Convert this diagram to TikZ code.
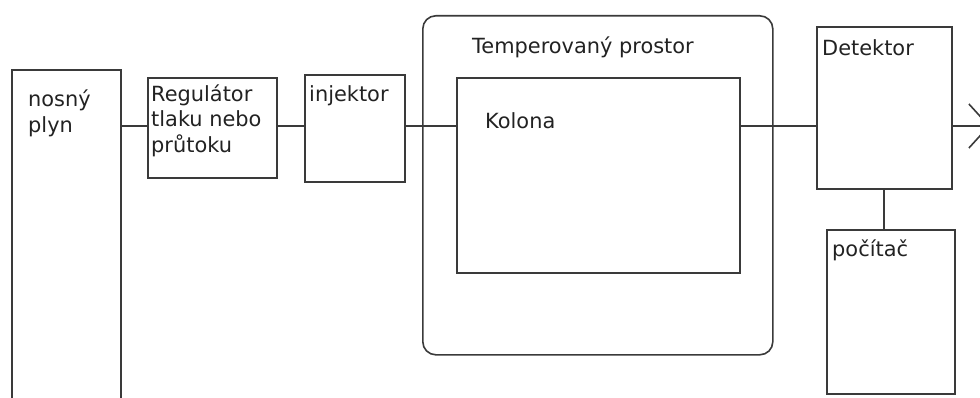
\documentclass[tikz,border=0pt]{standalone}
\usepackage{fontspec}
\setmainfont{DejaVu Sans}
\usetikzlibrary{arrows.meta}
\definecolor{ln}{HTML}{3A3A3A}
\definecolor{tx}{HTML}{222222}
\tikzset{
  blk/.style={draw=ln, line width=1.6pt, rectangle, inner sep=0pt, anchor=north west, fill=none},
  lbl/.style={text=tx, anchor=base west, inner sep=0pt, align=left, font=\fontsize{20.9}{25.5}\selectfont},
  conn/.style={draw=ln, line width=1.6pt}
}
\begin{document}
\begin{tikzpicture}[x=1pt,y=-1pt]
\useasboundingbox (0,0) rectangle (980,398);
\clip (0,0) rectangle (980,398);
% boxes
\node[blk, minimum width=109pt, minimum height=360pt] (gas) at (11,69) {};
\node[blk, minimum width=129pt, minimum height=100pt] (reg) at (147,77) {};
\node[blk, minimum width=100pt, minimum height=107pt] (inj) at (304,74) {};
\node[blk, rounded corners=13pt, minimum width=350pt, minimum height=339pt] (oven) at (422,15) {};
\node[blk, minimum width=283pt, minimum height=195pt] (col) at (456,77) {};
\node[blk, minimum width=135pt, minimum height=162pt] (det) at (816,26) {};
\node[blk, minimum width=128pt, minimum height=164pt] (pc) at (826,229) {};
\coordinate (out) at (990,126);
% labels (base = baseline of last line)
\node[lbl] (tgas) at (28,132.5) {nosný\\plyn};
\node[lbl] (treg) at (151,152.5) {Regulátor\\tlaku nebo\\průtoku};
\node[lbl] (tinj) at (309,102) {injektor};
\node[lbl] (toven) at (472,54) {Temperovaný prostor};
\node[lbl] (tcol) at (485,129) {Kolona};
\node[lbl] (tdet) at (822,56) {Detektor};
\node[lbl] (tpc) at (832,257) {počítač};
% connectors
\draw[conn] (gas.east |- 0,126) -- (reg.west |- 0,126);
\draw[conn] (reg.east |- 0,126) -- (inj.west |- 0,126);
\draw[conn] (inj.east |- 0,126) -- (col.west |- 0,126);
\draw[conn] (col.east |- 0,126) -- (det.west |- 0,126);
\draw[conn, -{Straight Barb[length=20pt,width=44pt]}] (det.east |- 0,126) -- (out);
\draw[conn] (det.south -| 884,0) -- (pc.north -| 884,0);
\end{tikzpicture}
\end{document}
